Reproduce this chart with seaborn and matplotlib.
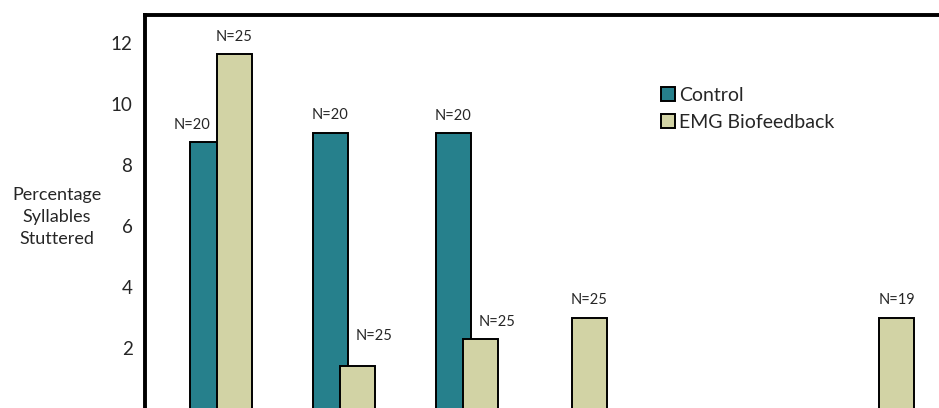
import matplotlib
matplotlib.use("Agg")
import matplotlib.pyplot as plt
import pandas as pd
import seaborn as sns

# measurement occasions (x labels are cut off in the source figure)
occasions = ["Pre", "Post", "3 months", "12 months", "Long term"]
control_pct = [8.74, 9.05, 9.03]
control_n = [20, 20, 20]
emg_pct = [11.62, 1.43, 2.30, 3.00, 3.00]
emg_n = [25, 25, 25, 25, 19]

CONTROL = "#26808c"
EMG = "#d2d3a5"

# layout: slot on the category axis for each occasion (the rest stay empty)
slot_of = {"Pre": 0, "Post": 2, "3 months": 4, "12 months": 6, "Long term": 11}
order = [f"_{i}" for i in range(12)]
for name, i in slot_of.items():
    order[i] = name

paired = pd.DataFrame({
    "occasion": occasions[:3] * 2,
    "group": ["Control"] * 3 + ["EMG Biofeedback"] * 3,
    "pct": control_pct + emg_pct[:3],
})
single = pd.DataFrame({"occasion": occasions[3:], "pct": emg_pct[3:]})

sns.set_style("white")
plt.rcParams["font.family"] = ["Lato", "DejaVu Sans"]

fig = plt.figure(figsize=(9.39, 4.08), dpi=100)
ax = fig.add_axes([145 / 939, -1.4 / 408, (939 - 145) / 939, 394.9 / 408])

sns.barplot(data=paired, x="occasion", y="pct", hue="group", order=order,
            hue_order=["Control", "EMG Biofeedback"], palette=[CONTROL, EMG],
            saturation=1, width=0.88, gap=-0.29, edgecolor="black",
            linewidth=1.4, errorbar=None, ax=ax)
sns.barplot(data=single, x="occasion", y="pct", order=order, color=EMG,
            saturation=1, width=0.57, edgecolor="black", linewidth=1.4,
            errorbar=None, ax=ax)

# labels nudged sideways (points) where they would sit on a neighbouring bar
nudge = {(0, 0): (-11, 0), (1, 1): (12, 9), (1, 2): (12, 0)}
for c, (cont, ns) in enumerate(zip(ax.containers, [control_n, emg_n[:3], emg_n[3:]])):
    anns = ax.bar_label(cont, labels=[f"N={n}" for n in ns], padding=7.5, fontsize=10.5)
    for b, ann in enumerate(anns):
        dx, dy = nudge.get((c, b), (0, 0))
        ann.xyann = (dx, 7.5 + dy)

ax.set_xlim(-1.233, 11.687)
ax.set_ylim(0, 12.92)
ax.set_xticks([])
ax.set_xlabel("")
ax.set_yticks([2, 4, 6, 8, 10, 12])
ax.tick_params(axis="y", length=0, pad=9, labelsize=13.5)
for s in ["bottom", "right"]:
    ax.spines[s].set_visible(False)
for s in ["top", "left"]:
    ax.spines[s].set_linewidth(2.8)
    ax.spines[s].set_color("black")

ax.set_ylabel("Percentage\nSyllables\nStuttered", rotation=0, fontsize=13,
              ha="center", va="center", linespacing=1.45)
ax.yaxis.set_label_coords((57 - 145) / 794, (409.4 - 217) / 394.9)

ax.legend(title=None, frameon=False, loc="upper left",
          bbox_to_anchor=(661 / 939, 1 - 87 / 408), bbox_transform=fig.transFigure,
          fontsize=14, handlelength=0.72, handleheight=0.72, handletextpad=0.2,
          labelspacing=0.5, borderpad=0, borderaxespad=0)

fig.savefig("out.png", dpi=100)
